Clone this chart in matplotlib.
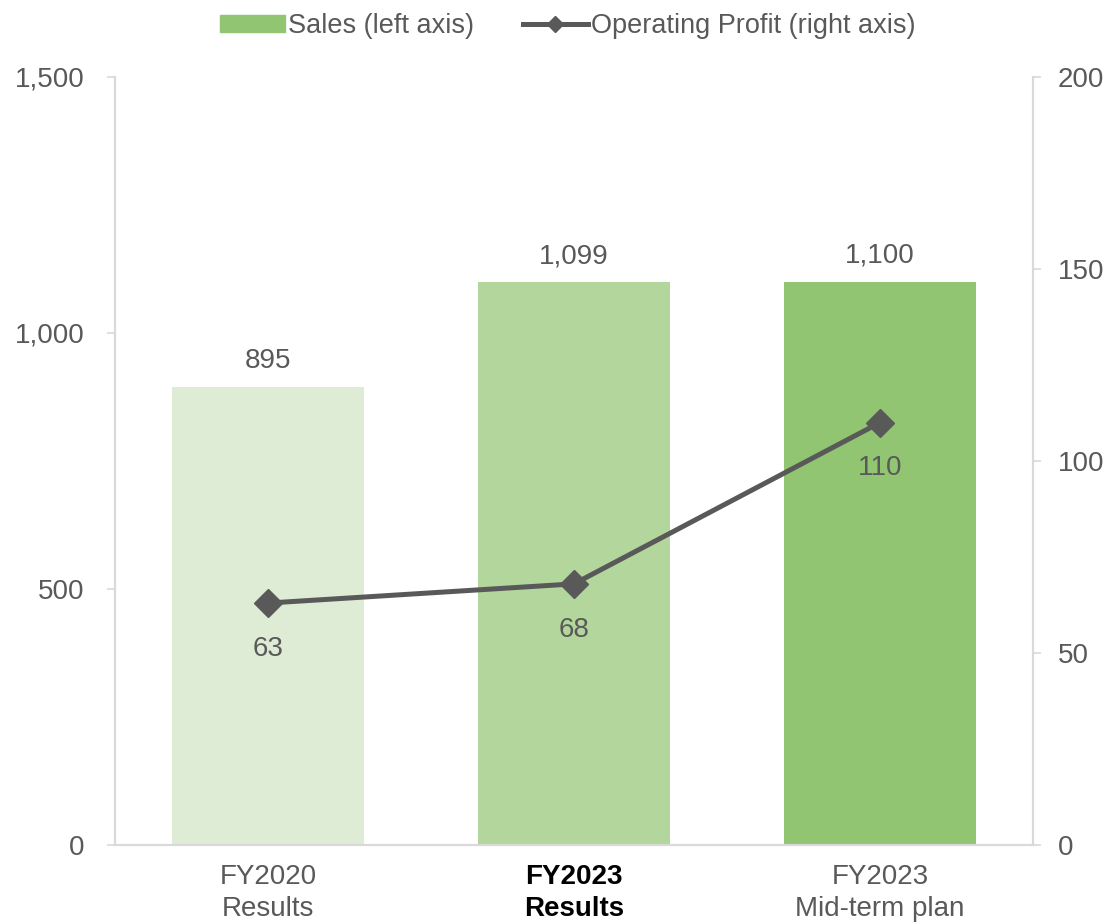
import matplotlib.pyplot as plt
from matplotlib.lines import Line2D
from matplotlib.patches import Patch

plt.rcParams['font.family'] = ['Liberation Sans', 'DejaVu Sans']

categories = ['FY2020\nResults', 'FY2023\nResults', 'FY2023\nMid-term plan']
sales = [895, 1099, 1100]
profit = [63, 68, 110]
bar_colors = ['#DFECD5', '#B3D69D', '#92C572']

grey = '#595959'
spine = '#D9D9D9'

fig = plt.figure(figsize=(11.09, 9.24), dpi=100)
ax = fig.add_axes([0.1037, 0.0855, 0.8278, 0.8312])
ax2 = ax.twinx()

x = range(len(categories))
ax.bar(x, sales, width=0.625, color=bar_colors, zorder=2)
for i, v in enumerate(sales):
    ax.text(i, v + 25, f'{v:,}', ha='center', va='bottom', fontsize=20, color=grey)

ax.set_xlim(-0.5, 2.5)
ax.set_ylim(0, 1500)
ax.set_yticks([0, 500, 1000, 1500])
ax.set_yticklabels(['0', '500', '1,000', '1,500'])
ax.set_xticks(list(x))
ax.set_xticklabels(categories, linespacing=1.3)

ax2.plot(x, profit, color=grey, lw=3.6, marker='D', markersize=14, zorder=3)
for i, v in enumerate(profit):
    ax2.text(i, v - 8.5, str(v), ha='center', va='top', fontsize=20, color=grey)
ax2.set_ylim(0, 200)
ax2.set_yticks([0, 50, 100, 150, 200])

for a in (ax, ax2):
    a.spines['top'].set_visible(False)
    for s in ['left', 'right', 'bottom']:
        a.spines[s].set_color(spine)
        a.spines[s].set_linewidth(1.5)
ax.tick_params(axis='y', labelsize=20, labelcolor=grey, color=spine, length=6, width=1.2, pad=16)
ax2.tick_params(axis='y', labelsize=20, labelcolor=grey, color=spine, length=6, width=1.2, pad=12)
ax.tick_params(axis='x', length=0, labelsize=20, labelcolor=grey, pad=14)
for lbl in ax.get_xticklabels():
    if lbl.get_text() == 'FY2023\nResults':
        lbl.set_fontweight('bold')
        lbl.set_color('black')

handles = [Patch(color='#92C572', label='Sales (left axis)'),
           Line2D([0], [0], color=grey, lw=3.6, marker='D', markersize=8, label='Operating Profit (right axis)')]
fig.legend(handles=handles, loc='upper center', bbox_to_anchor=(0.512, 1.012), ncol=2, frameon=False,
           fontsize=19.5, labelcolor=grey, handlelength=2.4, handletextpad=0.1, columnspacing=1.8,
           handleheight=0.6)

fig.savefig('out.png', dpi=100)
